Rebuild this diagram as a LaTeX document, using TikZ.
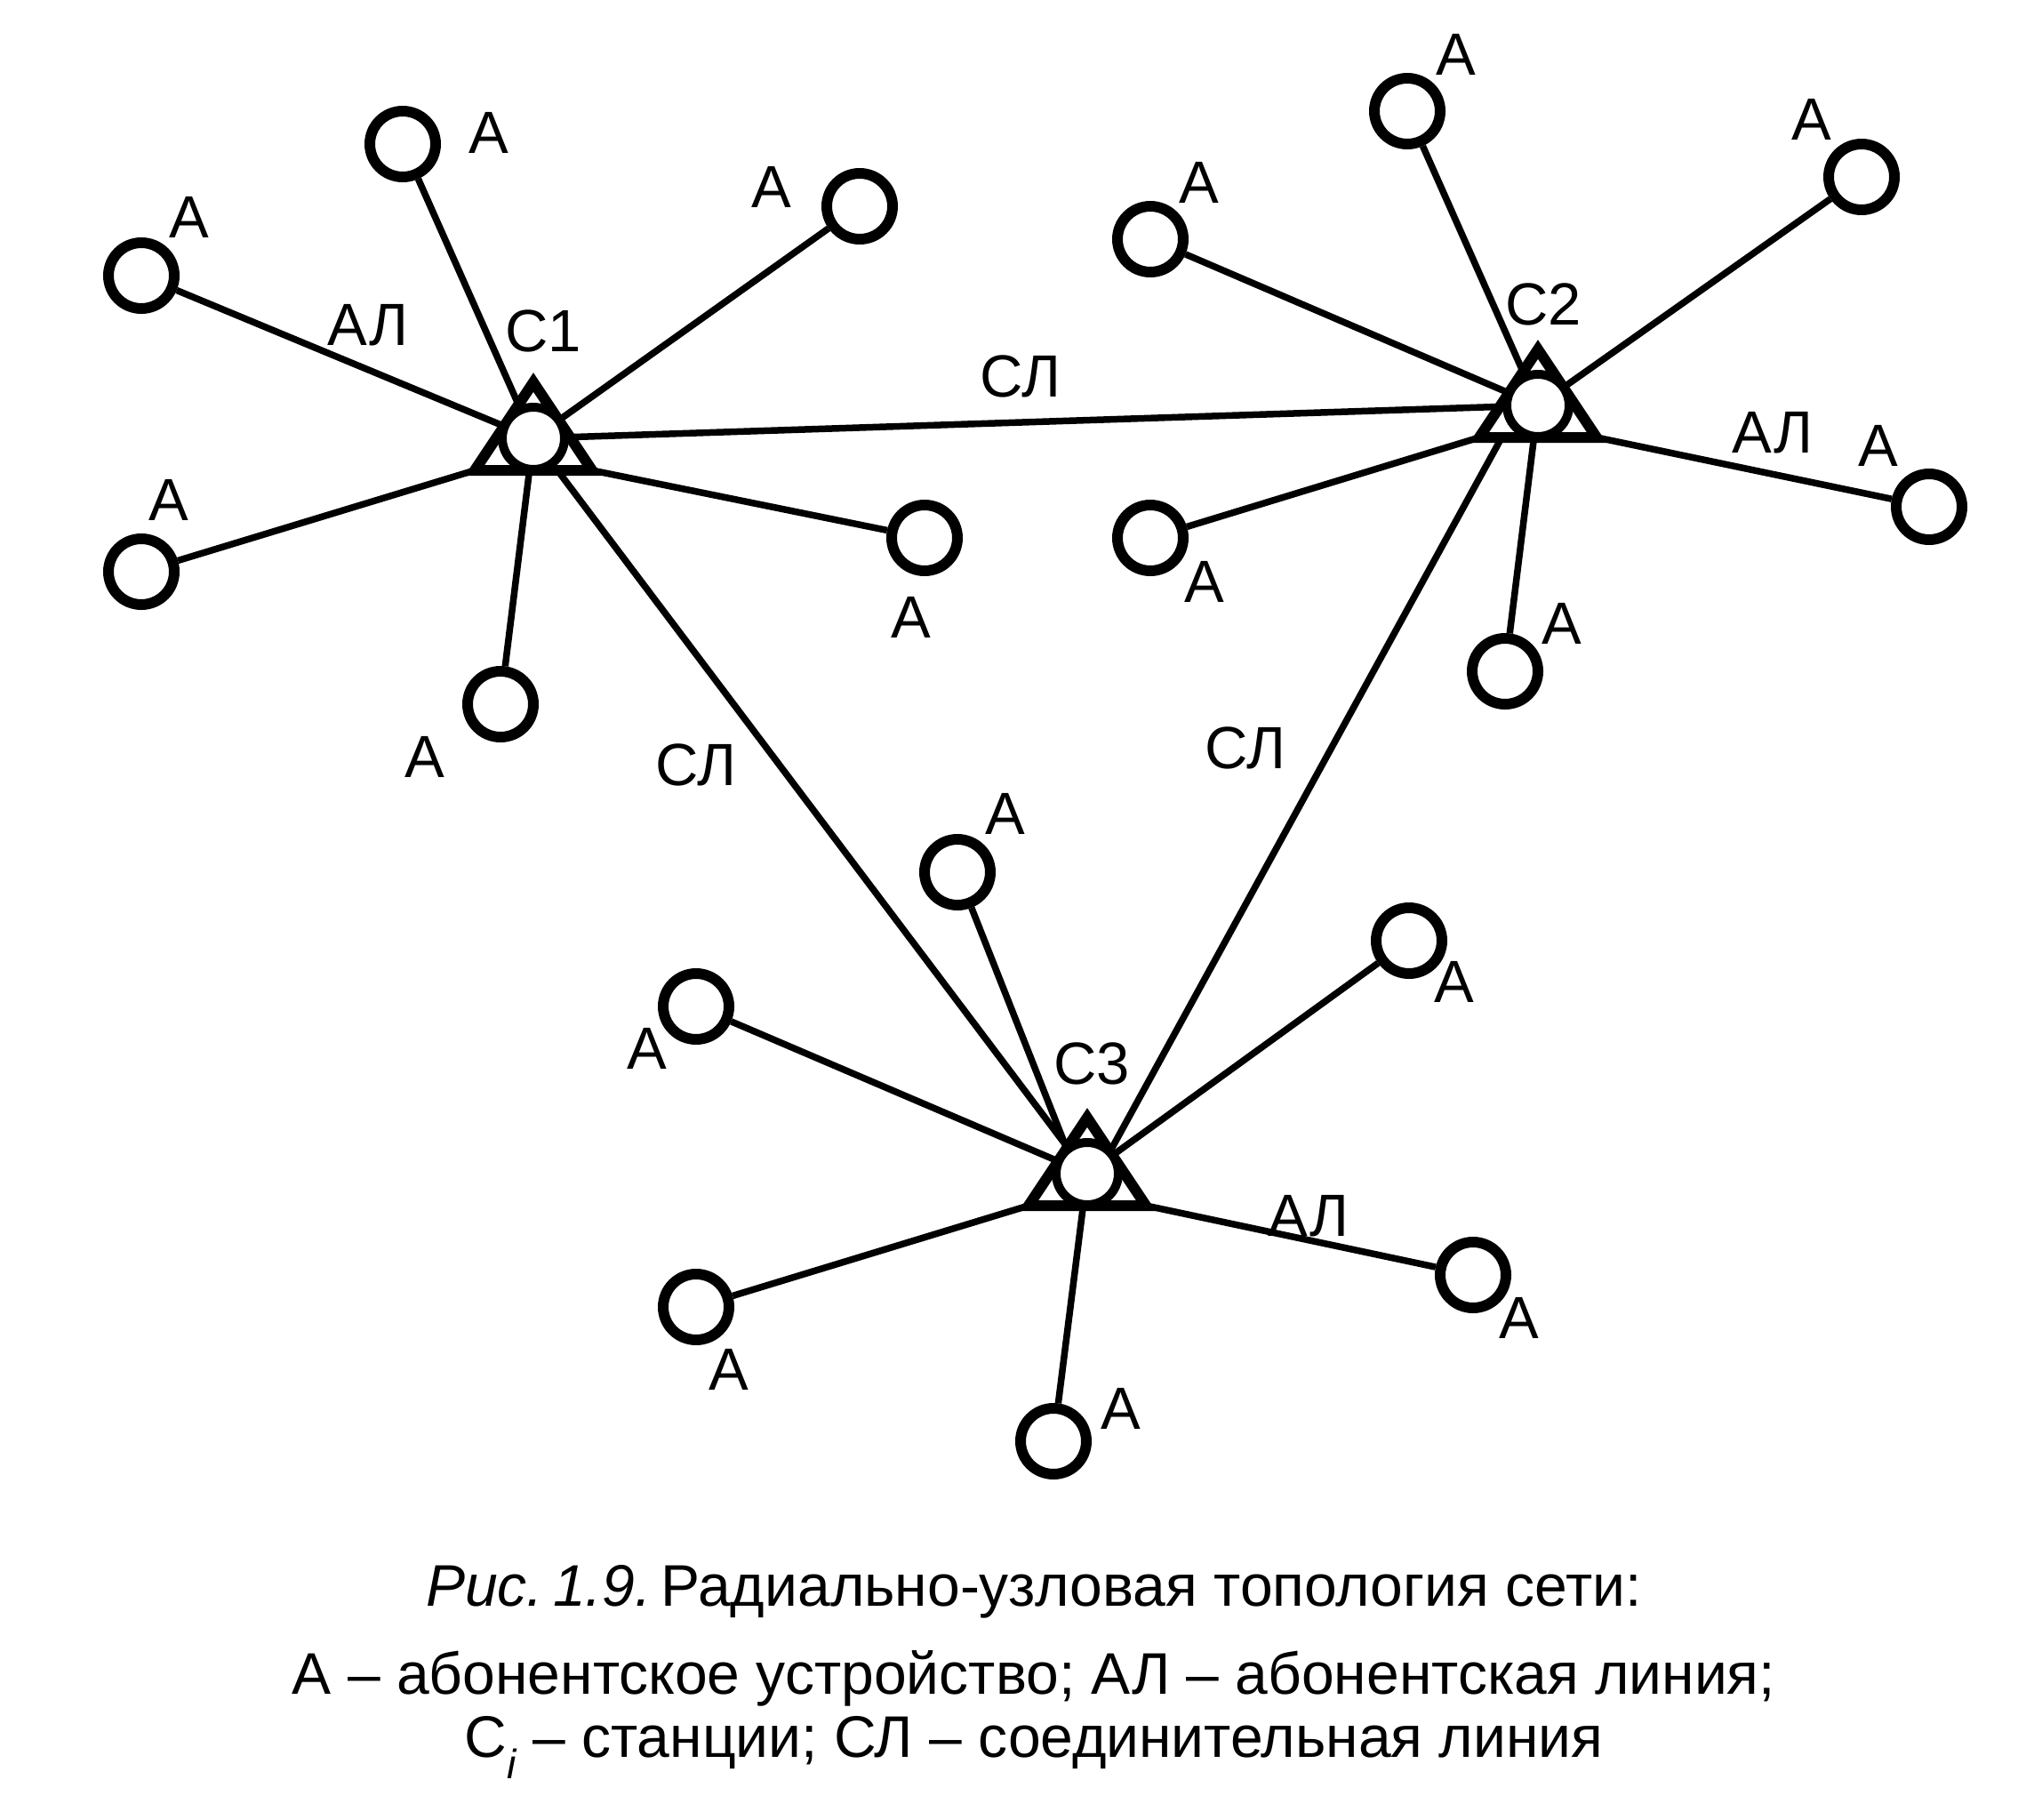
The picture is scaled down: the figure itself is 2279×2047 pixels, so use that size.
\documentclass[tikz,border=0pt]{standalone}
\usepackage{fontspec}
\setmainfont{Liberation Sans}
\usetikzlibrary{calc}
\begin{document}
\begin{tikzpicture}[x=1pt,y=-1pt,
  sub/.style={circle,draw,line width=12pt,minimum size=74pt,inner sep=0pt,fill=white},
  hubc/.style={circle,draw,line width=10pt,minimum size=70pt,inner sep=0pt,fill=white},
  tri/.style={draw,line width=12pt,fill=white},
  link/.style={line width=7.5pt},
  lbl/.style={font=\fontsize{67}{67}\selectfont,inner sep=0pt,anchor=base},
  capt/.style={font=\fontsize{66}{66}\selectfont,inner sep=0pt,anchor=base}]
\useasboundingbox (0,0) rectangle (2279,2047);

% stations
\coordinate (s1) at (600,493);
\coordinate (s2) at (1730,456);
\coordinate (s3) at (1223,1320);
\foreach \s in {s1,s2,s3}{
  \coordinate (\s bl) at ($(\s)+(-66,36)$);
  \coordinate (\s br) at ($(\s)+(66,36)$);
}
\coordinate (s3t) at ($(s3)+(-12,0)$);
\coordinate (s2w) at ($(s2)+(-21,0)$);
\coordinate (s3e) at ($(s3)+(12,0)$);

% subscribers
\node[sub] (a1t)  at (453,162) {};
\node[sub] (a1tl) at (159,310) {};
\node[sub] (a1ur) at (967,232) {};
\node[sub] (a1l)  at (159,643) {};
\node[sub] (a1r)  at (1040,605) {};
\node[sub] (a1b)  at (563,792) {};

\node[sub] (a2t)  at (1583,125) {};
\node[sub] (a2ul) at (1294,269) {};
\node[sub] (a2ur) at (2094,199) {};
\node[sub] (a2ll) at (1294,605) {};
\node[sub] (a2r)  at (2170,570) {};
\node[sub] (a2b)  at (1693,755) {};

\node[sub] (a3t)  at (1077,981) {};
\node[sub] (a3ul) at (783,1132) {};
\node[sub] (a3ur) at (1585,1058) {};
\node[sub] (a3ll) at (783,1470) {};
\node[sub] (a3r)  at (1657,1434) {};
\node[sub] (a3b)  at (1185,1621) {};

% subscriber lines
\draw[link] (a1t) -- (s1);
\draw[link] (a1tl) -- (s1);
\draw[link] (a1ur) -- (s1);
\draw[link] (a1l) -- (s1bl);
\draw[link] (a1r) -- (s1br);
\draw[link] (a1b) -- (s1);

\draw[link] (a2t) -- (s2);
\draw[link] (a2ul) -- (s2);
\draw[link] (a2ur) -- (s2);
\draw[link] (a2ll) -- (s2bl);
\draw[link] (a2r) -- (s2br);
\draw[link] (a2b) -- (s2);

\draw[link] (a3t) -- (s3t);
\draw[link] (a3ul) -- (s3);
\draw[link] (a3ur) -- (s3);
\draw[link] (a3ll) -- (s3bl);
\draw[link] (a3r) -- (s3br);
\draw[link] (a3b) -- (s3);

% trunk lines
\draw[link] (s1) -- (s2);
\draw[link] (s1) -- (s3);
\draw[link] (s2w) -- (s3e);

% station symbols
\foreach \s in {s1,s2,s3}{
  \draw[tri,shift={(\s)}] (0,-63) -- (66,36) -- (-66,36) -- cycle;
}
\node[hubc] (c1) at (s1) {};
\node[hubc] (c2) at (s2) {};
\node[hubc] (c3) at (s3) {};

% labels C1
\node[lbl] (l1a) at (550,173) {А};
\node[lbl] (l1b) at (213,267) {А};
\node[lbl] (l1c) at (868,233) {А};
\node[lbl] (l1d) at (190,585) {А};
\node[lbl] (l1e) at (1025,717) {А};
\node[lbl] (l1f) at (478,874) {А};
\node[lbl] (l1al) at (414,388) {АЛ};
\node[lbl] (l1s) at (611,395) {С1};
\node[lbl] (l13) at (783,883) {СЛ};
\node[lbl] (l12) at (1148,446) {СЛ};
% labels C2
\node[lbl] (l2a) at (1638,85) {А};
\node[lbl] (l2b) at (1349,228) {А};
\node[lbl] (l2c) at (2038,158) {А};
\node[lbl] (l2d) at (1355,677) {А};
\node[lbl] (l2e) at (2113,524) {А};
\node[lbl] (l2f) at (1757,724) {А};
\node[lbl] (l2s) at (1736,365) {С2};
\node[lbl] (l2al) at (1994,509) {АЛ};
\node[lbl] (l23) at (1401,864) {СЛ};
% labels C3
\node[lbl] (l3a) at (1131,938) {А};
\node[lbl] (l3b) at (728,1202) {А};
\node[lbl] (l3c) at (1636,1127) {А};
\node[lbl] (l3d) at (820,1563) {А};
\node[lbl] (l3e) at (1709,1505) {А};
\node[lbl] (l3f) at (1261,1607) {А};
\node[lbl] (l3s) at (1228,1219) {С3};
\node[lbl] (l3al) at (1472,1390) {АЛ};

% caption
\node[capt] (cap1) at (1163,1806) {{\itshape Рис.\,1.9.}\,Радиально-узловая топология сети:};
\node[capt] (cap2) at (1163,1905) {А – абонентское устройство; АЛ – абонентская линия;};
\node[capt] (cap3) at (1163,1976) {С\textsubscript{\itshape i} – станции; СЛ – соединительная линия};
\end{tikzpicture}
\end{document}
